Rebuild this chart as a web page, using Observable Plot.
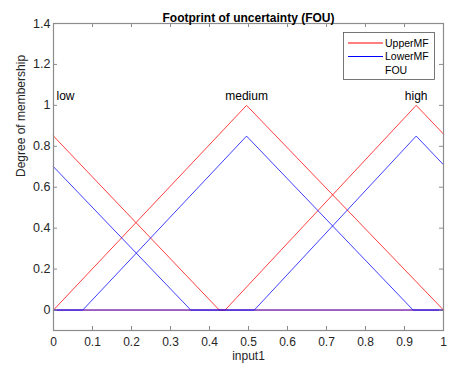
<!DOCTYPE html>
<html>
<head>
<meta charset="utf-8">
<script src="https://cdn.jsdelivr.net/npm/d3@7"></script>
<script src="https://cdn.jsdelivr.net/npm/@observablehq/plot@0.6"></script>
<style>
  html, body { margin: 0; padding: 0; background: #fff; }
  svg { font-family: Arial, "Liberation Sans", Helvetica, sans-serif; }
</style>
</head>
<body>
<div id="chart"></div>
<script>
// ---- data ----
const title = "Footprint of uncertainty (FOU)";
const xLabel = "input1";
const yLabel = "Degree of membership";
const xTicks = [0, 0.1, 0.2, 0.3, 0.4, 0.5, 0.6, 0.7, 0.8, 0.9, 1];
const yTicks = [0, 0.2, 0.4, 0.6, 0.8, 1, 1.2, 1.4];
const yDomain = [-0.1, 1.4];

const mfNames = ["low", "medium", "high"];
const mfPeaks = [0, 0.495, 0.93];
const mfLabelY = 1.045;

// vertices of each membership function inside [0,1]
const upperLowX = [0, 0.425, 1];
const upperLowY = [0.85, 0, 0];
const lowerLowX = [0, 0.352, 1];
const lowerLowY = [0.70, 0, 0];
const upperMedX = [0, 0.495, 1];
const upperMedY = [0, 1, 0];
const lowerMedX = [0, 0.075, 0.495, 0.922, 1];
const lowerMedY = [0, 0, 0.85, 0, 0];
const upperHighX = [0, 0.44, 0.93, 1];
const upperHighY = [0, 0, 1, 0.86];
const lowerHighX = [0, 0.515, 0.93, 1];
const lowerHighY = [0, 0, 0.85, 0.71];

const legendItems = ["UpperMF", "LowerMF", "FOU"];
const legendColors = ["#ff0000", "#0000ff", null];

// ---- build tables ----
function pts(xs, ys, mf, kind) { return xs.map((x, i) => ({x, y: ys[i], mf, kind})); }
const upper = [
  ...pts(upperLowX, upperLowY, "low", "upper"),
  ...pts(upperMedX, upperMedY, "medium", "upper"),
  ...pts(upperHighX, upperHighY, "high", "upper")
];
const lower = [
  ...pts(lowerLowX, lowerLowY, "low", "lower"),
  ...pts(lowerMedX, lowerMedY, "medium", "lower"),
  ...pts(lowerHighX, lowerHighY, "high", "lower")
];
const labels = mfNames.map((name, i) => ({name, x: mfPeaks[i], y: mfLabelY}));

const textColor = "#262626";
const axisColor = "#8c8c8c";
const W = 450, H = 370;
const mL = 53, mR = 7, mT = 23, mB = 40;
const frameW = W - mL - mR, frameH = H - mT - mB;
const tickLen = 4;

const chart = Plot.plot({
  width: W,
  height: H,
  marginLeft: mL,
  marginRight: mR,
  marginTop: mT,
  marginBottom: mB,
  style: {fontSize: "12px", fontFamily: "Arial, 'Liberation Sans', sans-serif", color: textColor, background: "#fff"},
  x: {domain: [0, 1]},
  y: {domain: yDomain},
  marks: [
    // membership functions
    Plot.line(upper, {x: "x", y: "y", z: "mf", stroke: "#ff0000", strokeWidth: 0.75}),
    Plot.line(lower, {x: "x", y: "y", z: "mf", stroke: "#0000ff", strokeWidth: 0.75}),
    // MF names
    Plot.text(labels.filter(d => d.name === "low"), {x: "x", y: "y", text: "name", textAnchor: "start", dx: 3, fill: "#000", fontSize: 12}),
    Plot.text(labels.filter(d => d.name !== "low"), {x: "x", y: "y", text: "name", textAnchor: "middle", fill: "#000", fontSize: 12}),
    // inward ticks (bottom, top, left, right)
    Plot.ruleX(xTicks, {x: d => d, insetTop: frameH - tickLen, stroke: axisColor}),
    Plot.ruleX(xTicks, {x: d => d, insetBottom: frameH - tickLen, stroke: axisColor}),
    Plot.ruleY(yTicks, {y: d => d, insetRight: frameW - tickLen, stroke: axisColor}),
    Plot.ruleY(yTicks, {y: d => d, insetLeft: frameW - tickLen, stroke: axisColor}),
    Plot.frame({stroke: axisColor, strokeWidth: 1.2}),
    Plot.axisX(xTicks, {tickSize: 0, tickPadding: 7, label: null, tickFormat: d => String(d), fill: textColor, fontSize: 12}),
    Plot.axisY(yTicks, {tickSize: 0, tickPadding: 3, label: null, tickFormat: d => String(d), fill: textColor, fontSize: 12.5}),
    // titles
    Plot.text([title], {frameAnchor: "top", dy: -10, fontWeight: "bold", fill: "#000", fontSize: 12}),
    Plot.text([xLabel], {frameAnchor: "bottom", dy: 29.5, fill: textColor, fontSize: 12}),
    Plot.text([yLabel], {frameAnchor: "left", dx: -32, rotate: -90, fill: textColor, fontSize: 12})
  ]
});

// legend (drawn into the same svg)
const svg = d3.select(chart);
const lg = svg.append("g").attr("transform", "translate(343,32)").attr("text-anchor", "start");
lg.append("rect").attr("x", 0.5).attr("y", 0.5).attr("width", 91).attr("height", 47)
  .attr("fill", "#fff").attr("stroke", "#555").attr("stroke-width", 0.8);
legendItems.forEach((name, i) => {
  const yy = 11 + i * 13.5;
  if (legendColors[i]) {
    lg.append("line").attr("x1", 5).attr("x2", 40).attr("y1", yy).attr("y2", yy)
      .style("stroke", legendColors[i]).style("stroke-width", "1.2");
  }
  lg.append("text").attr("x", 42).attr("y", yy).attr("dy", "0.35em")
    .attr("text-anchor", "start").attr("font-size", 10.5).attr("fill", "#000").text(name);
});

document.getElementById("chart").appendChild(chart);
</script>
</body>
</html>
